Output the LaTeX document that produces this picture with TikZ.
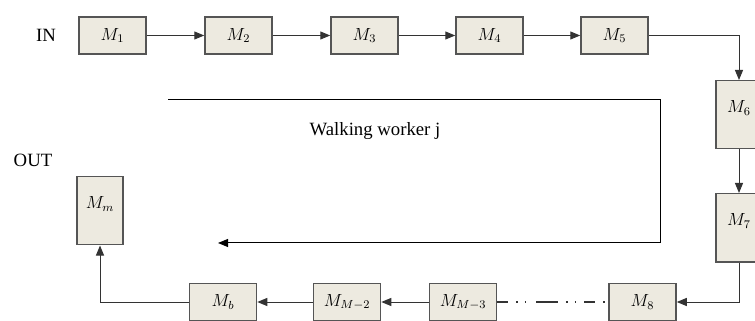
\documentclass[tikz,border=0pt]{standalone}
\usepackage{fontspec}
\setmainfont{Liberation Serif}
\usetikzlibrary{arrows.meta}
\definecolor{boxfill}{HTML}{EDEAE0}
\definecolor{boxline}{HTML}{555555}
\newcommand{\mlab}[1]{\scalebox{1.25}{$#1$}}
\tikzset{
  mach/.style={draw=boxline,fill=boxfill,line width=0.45mm,minimum width=20.1mm,minimum height=11.1mm,inner sep=0pt,font=\fontsize{12}{14}\selectfont},
  tallmach/.style={mach,minimum width=13.8mm,minimum height=20.4mm,anchor=north},
  flow/.style={draw=black!80,line width=0.3mm,-{Triangle[length=3mm,width=2.4mm]}},
  lbl/.style={font=\fontsize{16}{19}\selectfont}
}
\begin{document}
\begin{tikzpicture}[x=0.3mm,y=-0.3mm]
\useasboundingbox (0,0) rectangle (755,321);

\node[lbl] (in) at (46,35) {IN};
\node[lbl] (out) at (33,160) {OUT};

\node[mach] (M1) at (112.5,35.5) {\mlab{M_1}};
\node[mach] (M2) at (238.5,35.5) {\mlab{M_2}};
\node[mach] (M3) at (364.5,35.5) {\mlab{M_3}};
\node[mach] (M4) at (489.5,35.5) {\mlab{M_4}};
\node[mach] (M5) at (614.5,35.5) {\mlab{M_5}};
\node[tallmach] (M6) at (739,80) {\raisebox{5mm}{\mlab{M_6}}};
\node[tallmach] (M7) at (739,193) {\raisebox{5mm}{\mlab{M_7}}};
\node[mach] (M8) at (642.5,302) {\mlab{M_8}};
\node[mach] (MM3) at (463,302) {\mlab{M_{M-3}}};
\node[mach] (MM2) at (347,302) {\mlab{M_{M-2}}};
\node[mach] (Mb) at (223,302) {\mlab{M_b}};
\node[tallmach] (Mm) at (100,176) {\raisebox{5mm}{\mlab{M_m}}};

\draw[flow] (M1) -- (M2);
\draw[flow] (M2) -- (M3);
\draw[flow] (M3) -- (M4);
\draw[flow] (M4) -- (M5);
\draw[flow] (M5.east) -| (M6.north);
\draw[flow] (M6) -- (M7);
\draw[flow] (M7.south) |- (M8.east);
\draw[black!80,line width=0.45mm,dash pattern=on 3.3mm off 2.4mm on 0.4mm off 2.2mm on 0.4mm off 3mm on 6.6mm off 2.4mm on 0.4mm off 2.2mm on 0.4mm off 2.4mm] (MM3.east) -- (M8.west);
\draw[flow] (MM3) -- (MM2);
\draw[flow] (MM2) -- (Mb);
\draw[flow] (Mb.west) -| (Mm.south);

% walking worker
\coordinate (w1) at (168,100);
\coordinate (w2) at (660,100);
\coordinate (w3) at (660,243);
\coordinate (w4) at (218,243);
\draw[black,line width=0.3mm,-{Triangle[length=3mm,width=2.4mm]}] (w1) -- (w2) -- (w3) -- (w4);
\node[lbl] (walk) at (375,131) {Walking worker j};
\end{tikzpicture}
\end{document}
